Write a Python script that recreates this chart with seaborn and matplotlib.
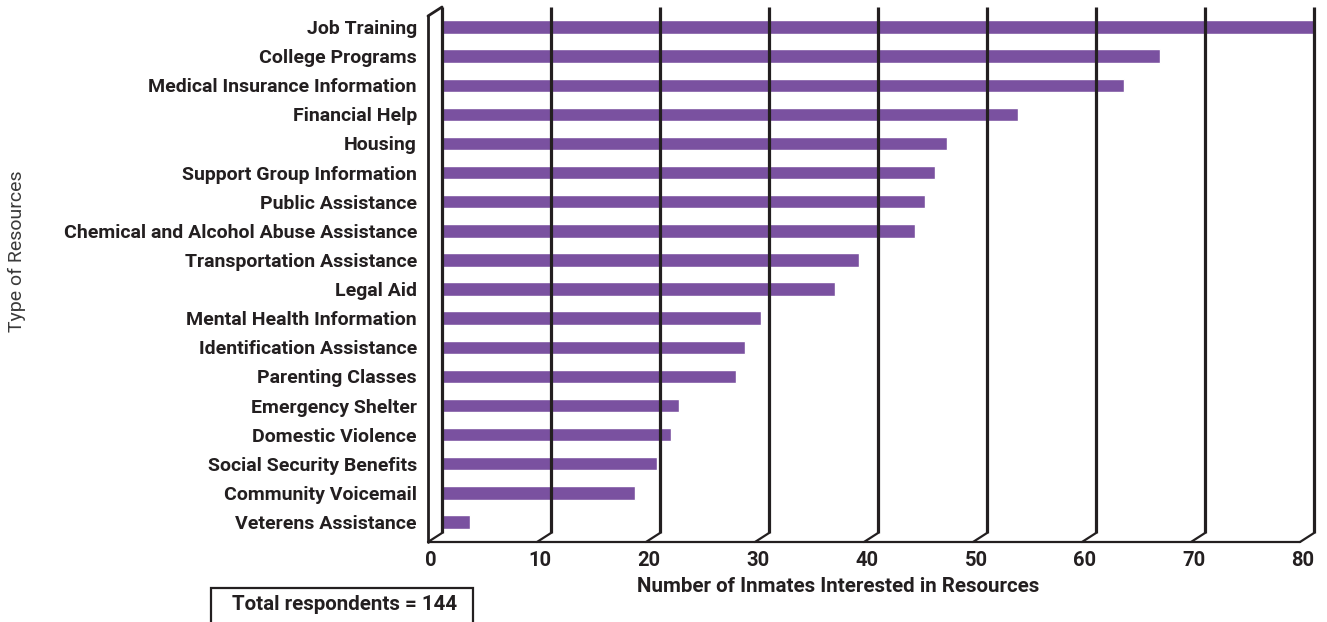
import matplotlib
matplotlib.use("Agg")
import matplotlib.pyplot as plt
import seaborn as sns
import pandas as pd
from matplotlib.patches import Rectangle

categories = [
    "Job Training", "College Programs", "Medical Insurance Information",
    "Financial Help", "Housing", "Support Group Information",
    "Public Assistance", "Chemical and Alcohol Abuse Assistance",
    "Transportation Assistance", "Legal Aid", "Mental Health Information",
    "Identification Assistance", "Parenting Classes", "Emergency Shelter",
    "Domestic Violence", "Social Security Benefits", "Community Voicemail",
    "Veterens Assistance",
]
values = [80, 65.9, 62.6, 52.8, 46.3, 45.2, 44.3, 43.4, 38.3, 36.1,
          29.3, 27.8, 27.0, 21.7, 21.0, 19.7, 17.7, 2.6]
x_ticks = [0, 10, 20, 30, 40, 50, 60, 70, 80]

BAR = "#7a51a0"
INK = "#231f20"
FONT = "Roboto"

df = pd.DataFrame({"resource": categories, "count": values})

sns.set_theme(style="white")
plt.rcParams["font.family"] = [FONT, "DejaVu Sans"]

W, H = 1327, 622
fig = plt.figure(figsize=(W / 100, H / 100), dpi=100)
ax_l, ax_r, ax_t, ax_b = 442, 1314, 7, 533
ax = fig.add_axes([ax_l / W, 1 - ax_b / H, (ax_r - ax_l) / W, (ax_b - ax_t) / H])

sns.barplot(data=df, x="count", y="resource", order=categories, color=BAR,
            width=0.46, saturation=1, ax=ax, zorder=2)

y_top, y_bot = -0.687, 17.378
ax.set_xlim(0, 80)
ax.set_ylim(y_bot, y_top)
for s in ax.spines.values():
    s.set_visible(False)

pxx = (ax_r - ax_l) / 80.0
pxy = (ax_b - ax_t) / (y_bot - y_top)
dxo = 14 / pxx   # front offset (left) in data units
dyo = 9 / pxy    # front offset (down) in data units

# back-wall vertical lines + floor slants
for v in x_ticks:
    ax.plot([v, v], [y_top, y_bot], color=INK, lw=2.3, zorder=3,
            clip_on=False, solid_capstyle="butt")
    ax.plot([v, v - dxo], [y_bot, y_bot + dyo], color=INK, lw=1.6, zorder=3,
            clip_on=False)
# floor front line
ax.plot([0 - dxo, 80 - dxo], [y_bot + dyo, y_bot + dyo], color=INK, lw=1.6,
        zorder=3, clip_on=False)
# left wall front edge + top slant
ax.plot([0 - dxo, 0 - dxo], [y_top + dyo, y_bot + dyo], color=INK, lw=2.0,
        zorder=3, clip_on=False)
ax.plot([0 - dxo, 0], [y_top + dyo, y_top], color=INK, lw=2.0, zorder=3,
        clip_on=False)

# tick labels at front positions
ax.set_xticks([])
for v in x_ticks:
    ax.text(v - dxo + 3 / pxx, y_bot + dyo + 18 / pxy, str(v), ha="center",
            va="center", fontsize=14.5, fontweight="bold", color=INK,
            family=[FONT, "DejaVu Sans"], clip_on=False)

ax.set_yticks(range(len(categories)))
ax.set_yticklabels(categories, fontsize=14, fontweight="bold", color=INK)
ax.tick_params(axis="y", length=0, pad=18)
ax.set_ylabel("")
ax.set_xlabel("")

fig.text(838 / W, 1 - 587 / H, "Number of Inmates Interested in Resources",
         ha="center", va="center", fontsize=14.8, fontweight="bold", color=INK)
fig.text(17 / W, 1 - 251 / H, "Type of Resources", rotation=90, ha="center",
         va="center", fontsize=14, color="#3a3a3a")

# respondents box (bottom edge falls outside the figure)
fig.patches.append(Rectangle((211 / W, -0.05), (473 - 211) / W,
                             (1 - 588 / H) + 0.05, transform=fig.transFigure,
                             fill=False, edgecolor=INK, lw=1.6))
fig.text(345 / W, 1 - 605 / H, "Total respondents = 144", ha="center",
         va="center", fontsize=14.8, fontweight="bold", color=INK)

fig.savefig("out.png", dpi=100)
